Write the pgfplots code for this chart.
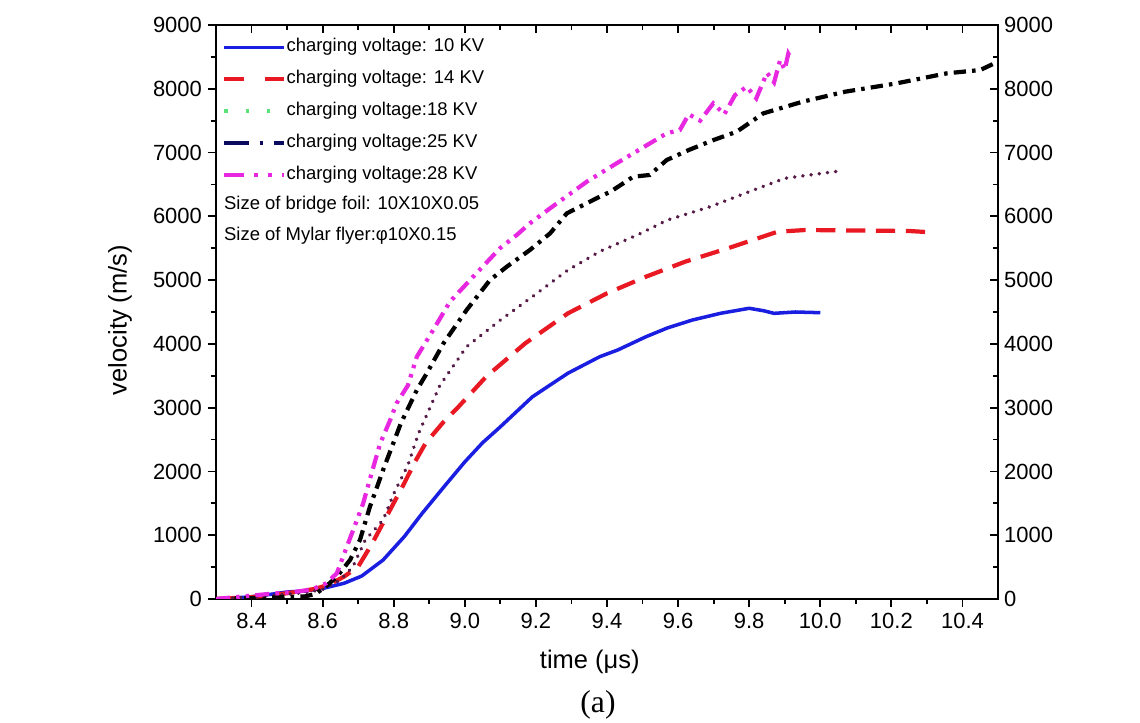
\documentclass[border=0pt]{standalone}
\usepackage{fontspec}
\setmainfont{Liberation Sans}
\newfontfamily\capfont{Liberation Serif}
\usepackage{pgfplots}
\pgfplotsset{compat=1.18}
\definecolor{cBlue}{RGB}{25,30,225}
\definecolor{cRed}{RGB}{232,25,35}
\definecolor{cDot}{RGB}{85,25,70}
\definecolor{cMag}{RGB}{232,40,225}
\definecolor{cGreen}{RGB}{90,225,120}
\definecolor{cNavy}{RGB}{10,10,95}
\begin{document}
\begin{tikzpicture}[x=1cm,y=1cm]
\path[use as bounding box] (0,0) rectangle (22.8,14.46);
\pgfplotsset{myax/.style={
  scale only axis, width=15.64cm, height=11.48cm,
  at={(4.32cm,2.48cm)}, anchor=south west,
  xmin=8.3, xmax=10.5, ymin=0, ymax=9000,
  xtick={8.4,8.6,...,10.41}, ytick={0,1000,...,9000},
  minor x tick num=1, minor y tick num=1,
  axis line style={line width=1.1pt},
  every tick/.style={line width=1.0pt, black},
  major tick length=4.5pt, minor tick length=3pt,
  /pgf/number format/assume math mode=true,
  ticklabel style={font=\fontsize{12.5}{14}\selectfont},
  yticklabel style={/pgf/number format/1000 sep={}},
  xticklabel style={/pgf/number format/fixed, /pgf/number format/fixed zerofill, /pgf/number format/precision=1},
}}
\begin{axis}[myax, xtick pos=top, ytick pos=right, tick align=inside,
  xticklabels={}, yticklabel pos=right]
\end{axis}
\begin{axis}[myax, xtick pos=bottom, ytick pos=left, tick align=outside,
  xlabel={time (μs)}, ylabel={velocity (m/s)},
  label style={font=\fontsize{14.5}{17}\selectfont},
  xlabel style={at={(axis description cs:0.478,-0.11)}, anchor=center},
  ylabel style={at={(axis description cs:-0.1228,0.486)}, anchor=center},
  legend cell align=left,
  legend image code/.code={\draw[#1] (0cm,0cm) -- (1.2cm,0cm);},
  legend style={at={(rel axis cs:0.0077,0.977)}, anchor=north west, draw=none, fill=none,
    font=\fontsize{10.5}{12}\selectfont, inner sep=0pt, row sep=8.2pt,
    nodes={inner sep=0pt, text height=7.5pt, text depth=2.5pt},
    /tikz/every even column/.append style={column sep=2pt}},
]
% 10 KV
\addplot[cBlue, line width=2pt, forget plot] coordinates {
(8.30,0) (8.35,15) (8.40,35) (8.45,70) (8.50,110) (8.55,125) (8.60,165) (8.66,246)
(8.71,360) (8.77,611) (8.83,980) (8.88,1343) (8.94,1750) (9.00,2150) (9.05,2450)
(9.10,2700) (9.19,3170) (9.29,3540) (9.38,3800) (9.43,3904) (9.51,4113) (9.57,4250)
(9.64,4374) (9.72,4480) (9.80,4558) (9.84,4520) (9.87,4479) (9.93,4500) (10.00,4489)};
% 14 KV
\addplot[cRed, line width=2.4pt, dash pattern=on 11pt off 6pt, forget plot] coordinates {
(8.30,0) (8.40,30) (8.50,90) (8.58,160) (8.62,230) (8.66,350) (8.70,507) (8.74,878)
(8.77,1192) (8.80,1505) (8.83,1819) (8.86,2153) (8.89,2446) (8.94,2775) (8.98,3000)
(9.06,3486) (9.17,4009) (9.29,4479) (9.40,4793) (9.51,5054) (9.62,5289) (9.74,5499)
(9.81,5629) (9.88,5759) (9.96,5786) (10.05,5780) (10.15,5775) (10.25,5770) (10.31,5750)};
% 18 KV
\addplot[cDot, line width=2.1pt, dash pattern=on 0.1pt off 4.6pt, line cap=round, forget plot] coordinates {
(8.30,0) (8.45,50) (8.55,100) (8.60,150) (8.65,298) (8.685,506) (8.72,925) (8.77,1238)
(8.80,1650) (8.84,2100) (8.87,2600) (8.93,3350) (9.005,3956) (9.10,4374) (9.19,4740)
(9.29,5158) (9.38,5450) (9.49,5720) (9.57,5942) (9.69,6150) (9.80,6386) (9.90,6596)
(10.04,6700) (10.06,6710)};
% 25 KV
\addplot[black, line width=2.4pt, dash pattern=on 7pt off 3.5pt on 2pt off 3.5pt, forget plot] coordinates {
(8.30,0) (8.45,20) (8.55,40) (8.58,80) (8.61,200) (8.64,350) (8.677,611) (8.705,925)
(8.733,1447) (8.75,1709) (8.77,2022) (8.82,2754) (8.865,3277) (8.893,3539) (8.94,4009)
(9.005,4531) (9.071,5002) (9.118,5210) (9.183,5472) (9.24,5734) (9.287,6047) (9.38,6309)
(9.41,6386) (9.474,6622) (9.52,6648) (9.568,6883) (9.63,7040) (9.70,7197) (9.765,7327)
(9.84,7615) (9.95,7797) (10.07,7954) (10.215,8085) (10.356,8242) (10.45,8294) (10.50,8425)};
% 28 KV
\addplot[cMag, line width=2.4pt, dash pattern=on 8pt off 3.5pt on 2pt off 3.5pt on 2pt off 3.5pt, forget plot] coordinates {
(8.30,0) (8.45,80) (8.52,110) (8.57,150) (8.61,246) (8.64,403) (8.668,820) (8.686,1082)
(8.714,1500) (8.743,2074) (8.762,2441) (8.79,2806) (8.808,3068) (8.84,3350) (8.865,3799)
(8.911,4218) (8.958,4661) (9.015,5002) (9.099,5500) (9.146,5707) (9.183,5890) (9.24,6126)
(9.343,6543) (9.427,6831) (9.474,6988) (9.568,7302) (9.605,7353) (9.63,7600) (9.662,7500)
(9.699,7772) (9.73,7600) (9.76,7900) (9.793,8032) (9.82,7850) (9.85,8250) (9.87,8100)
(9.887,8450) (9.90,8300) (9.91,8550) (9.92,8450)};
\addlegendimage{cBlue, line width=2pt}
\addlegendentry{charging voltage: 10 KV}
\addlegendimage{cRed, line width=2.4pt, dash pattern=on 11pt off 12pt}
\addlegendentry{charging voltage: 14 KV}
\addlegendimage{cGreen, line width=2.4pt, dash pattern=on 2pt off 10pt}
\addlegendentry{charging voltage:18 KV}
\addlegendimage{cNavy, line width=2.4pt, dash pattern=on 14pt off 6pt on 2pt off 6pt}
\addlegendentry{charging voltage:25 KV}
\addlegendimage{cMag, line width=2.4pt, dash pattern=on 11pt off 6pt on 2pt off 6pt on 2pt off 6pt}
\addlegendentry{charging voltage:28 KV}
\node[anchor=west, font=\fontsize{10.5}{12}\selectfont, inner sep=0pt] at (rel axis cs:0.01,0.686) {Size of bridge foil: 10X10X0.05};
\node[anchor=west, font=\fontsize{10.5}{12}\selectfont, inner sep=0pt] at (rel axis cs:0.01,0.632) {Size of Mylar flyer:φ10X0.15};
\end{axis}
\node at (11.96,0.36) {\capfont\fontsize{18}{21}\selectfont (a)};
\end{tikzpicture}
\end{document}
